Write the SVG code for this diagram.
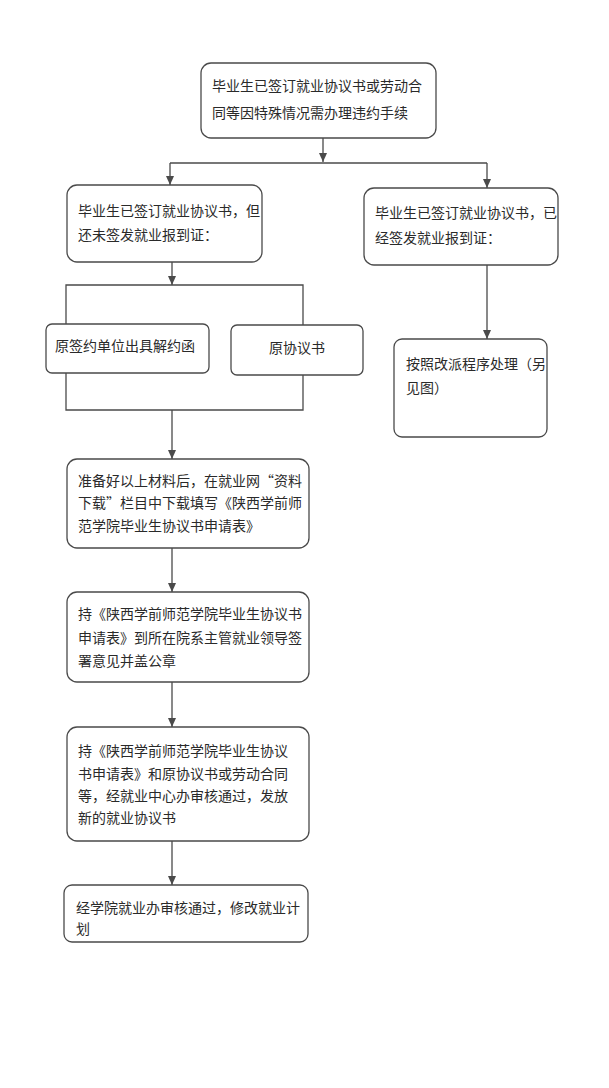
<svg xmlns="http://www.w3.org/2000/svg" width="609" height="1088" viewBox="0 0 609 1088">
<defs>
<marker id="ah" markerWidth="10" markerHeight="10" refX="9" refY="5" orient="auto" markerUnits="userSpaceOnUse"><path d="M0,1 L9,5 L0,9 Z" fill="#4a4a4a"/></marker>
<style>
.box{fill:#fff;stroke:#4a4a4a;stroke-width:1.3}
.ln{fill:none;stroke:#4a4a4a;stroke-width:1.3}
text{font-family:"Noto Sans CJK SC","Liberation Sans",sans-serif;font-size:14px;fill:#2a2a2a;dominant-baseline:central}
</style>
</defs>
<rect width="609" height="1088" fill="#fff"/>
<g id="connectors">
<path class="ln" d="M323,138 V162" marker-end="url(#ah)"/>
<path class="ln" d="M170,163 H487"/>
<path class="ln" d="M170,163 V185" marker-end="url(#ah)"/>
<path class="ln" d="M487,163 V188" marker-end="url(#ah)"/>
<path class="ln" d="M172,262 V285" marker-end="url(#ah)"/>
<path class="ln" d="M66,324 V285 H303 V325"/>
<path class="ln" d="M66,373 V410 H303 V375"/>
<path class="ln" d="M172,410 V459" marker-end="url(#ah)"/>
<path class="ln" d="M487,265 V339" marker-end="url(#ah)"/>
<path class="ln" d="M172,548 V592" marker-end="url(#ah)"/>
<path class="ln" d="M172,682 V727" marker-end="url(#ah)"/>
<path class="ln" d="M172,841 V885" marker-end="url(#ah)"/>
</g>
<g id="n1"><rect class="box" x="201" y="63" width="235" height="75" rx="10"/>
<text x="212" y="85">毕业生已签订就业协议书或劳动合</text><text x="212" y="112">同等因特殊情况需办理违约手续</text></g>
<g id="n2"><rect class="box" x="67" y="185" width="195" height="77" rx="10"/>
<text x="78" y="210">毕业生已签订就业协议书，但</text><text x="78" y="234">还未签发就业报到证：</text></g>
<g id="n3"><rect class="box" x="364" y="188" width="194" height="77" rx="10"/>
<text x="375" y="212">毕业生已签订就业协议书，已</text><text x="375" y="237">经签发就业报到证：</text></g>
<g id="n4"><rect class="box" x="46" y="324" width="163" height="49" rx="6"/>
<text x="55" y="345">原签约单位出具解约函</text></g>
<g id="n5"><rect class="box" x="231" y="325" width="132" height="50" rx="6"/>
<text x="297" y="347" text-anchor="middle">原协议书</text></g>
<g id="n6"><rect class="box" x="394" y="339" width="153" height="98" rx="8"/>
<text x="406" y="363">按照改派程序处理（另</text><text x="406" y="387">见图）</text></g>
<g id="n7"><rect class="box" x="67" y="459" width="242" height="89" rx="10"/>
<text x="78" y="480">准备好以上材料后，在就业网“资料</text><text x="78" y="502">下载”栏目中下载填写《陕西学前师</text><text x="78" y="525">范学院毕业生协议书申请表》</text></g>
<g id="n8"><rect class="box" x="67" y="592" width="242" height="90" rx="10"/>
<text x="78" y="613">持《陕西学前师范学院毕业生协议书</text><text x="78" y="637">申请表》到所在院系主管就业领导签</text><text x="78" y="660">署意见并盖公章</text></g>
<g id="n9"><rect class="box" x="67" y="727" width="242" height="114" rx="10"/>
<text x="78" y="750">持《陕西学前师范学院毕业生协议</text><text x="78" y="773">书申请表》和原协议书或劳动合同</text><text x="78" y="795">等，经就业中心办审核通过，发放</text><text x="78" y="817">新的就业协议书</text></g>
<g id="n10"><rect class="box" x="64" y="885" width="244" height="57" rx="8"/>
<text x="76" y="907">经学院就业办审核通过，修改就业计</text><text x="76" y="928">划</text></g>
</svg>
